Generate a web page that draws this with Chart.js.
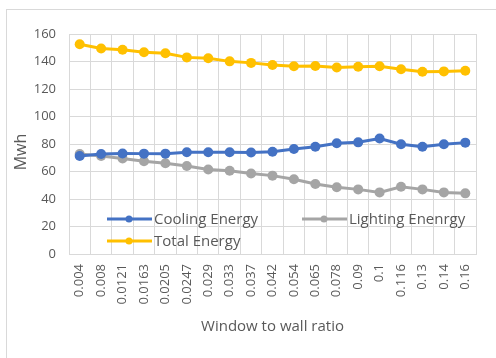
<!DOCTYPE html>
<html>
<head>
<meta charset="utf-8">
<script src="https://cdn.jsdelivr.net/npm/chart.js@4"></script>
<style>
  html, body { margin: 0; padding: 0; background: #fff; }
  #wrap { position: relative; width: 496px; height: 358px; }
  #frame { position: absolute; left: 6px; top: 9px; right: 0; bottom: 0;
           border-top: 1px solid #d9d9d9; border-left: 1px solid #d9d9d9; pointer-events: none; }
  canvas { position: absolute; left: 0; top: 0; }
</style>
</head>
<body>
<div id="wrap">
  <canvas id="c" width="496" height="358"></canvas>
  <div id="frame"></div>
</div>
<script>
// Window-to-wall ratio categories
const ratios = ['0.004', '0.008', '0.0121', '0.0163', '0.0205', '0.0247', '0.029', '0.033', '0.037',
                '0.042', '0.054', '0.065', '0.078', '0.09', '0.1', '0.116', '0.13', '0.14', '0.16'];

// Annual energy per ratio (MWh)
const coolingEnergy  = [71.3, 72.7, 73.1, 73.0, 73.0, 74.0, 74.0, 74.0, 73.8, 74.4, 76.4, 78.0, 80.5, 81.2, 84.0, 79.8, 78.0, 79.8, 81.0];
const lightingEnergy = [72.7, 71.3, 69.5, 67.4, 66.0, 64.0, 61.5, 60.6, 58.6, 57.0, 54.3, 50.9, 48.5, 47.0, 44.8, 48.9, 47.0, 44.8, 44.1];
const totalEnergy    = [152.5, 149.5, 148.6, 146.7, 146.0, 143.0, 142.3, 140.1, 139.0, 137.5, 136.5, 136.7, 135.6, 136.2, 136.5, 134.3, 132.6, 132.8, 133.3];

const yTicks = [0, 20, 40, 60, 80, 100, 120, 140, 160];

const FONT = '"Open Sans", Lato, sans-serif';
const TEXT = '#595959';
const GRID = '#d9d9d9';

const series = [
  { label: 'Cooling Energy',   data: coolingEnergy,  color: '#4472C4' },
  { label: 'Lighting Enenrgy', data: lightingEnergy, color: '#A5A5A5' },
  { label: 'Total Energy',     data: totalEnergy,    color: '#FFC000' }
];

// Legend sits inside the plot area: two columns, two rows
const legendSlots = [
  { x: 107, y: 219 },
  { x: 302, y: 219 },
  { x: 107, y: 241 }
];

const insideLegend = {
  id: 'insideLegend',
  afterDatasetsDraw(chart) {
    const ctx = chart.ctx;
    ctx.save();
    chart.data.datasets.forEach((ds, i) => {
      const s = legendSlots[i];
      ctx.strokeStyle = ds.borderColor;
      ctx.lineWidth = 3;
      ctx.beginPath();
      ctx.moveTo(s.x, s.y);
      ctx.lineTo(s.x + 45, s.y);
      ctx.stroke();
      ctx.fillStyle = ds.borderColor;
      ctx.beginPath();
      ctx.arc(s.x + 22, s.y, 3.5, 0, Math.PI * 2);
      ctx.fill();
      ctx.fillStyle = TEXT;
      ctx.font = '15px ' + FONT;
      ctx.textBaseline = 'middle';
      ctx.textAlign = 'left';
      ctx.fillText(ds.label, s.x + 47, s.y + 1);
    });
    ctx.restore();
  }
};

// Vertical value-axis title, sitting a little below the axis middle
const yAxisTitle = {
  id: 'yAxisTitle',
  afterDraw(chart) {
    const ctx = chart.ctx;
    const area = chart.chartArea;
    ctx.save();
    ctx.translate(21, (area.top + area.bottom) / 2 + 8);
    ctx.rotate(-Math.PI / 2);
    ctx.fillStyle = TEXT;
    ctx.font = '16px ' + FONT;
    ctx.textAlign = 'center';
    ctx.textBaseline = 'middle';
    ctx.fillText('Mwh', 0, 0);
    ctx.restore();
  }
};

new Chart(document.getElementById('c'), {
  type: 'line',
  data: {
    labels: ratios,
    datasets: series.map(s => ({
      label: s.label,
      data: s.data,
      borderColor: s.color,
      backgroundColor: s.color,
      borderWidth: 3,
      pointRadius: 5,
      pointHoverRadius: 5,
      pointBorderWidth: 0,
      tension: 0
    }))
  },
  options: {
    responsive: false,
    animation: false,
    events: [],
    layout: { padding: { left: 0, right: 20, top: 34, bottom: 22 } },
    plugins: { legend: { display: false }, tooltip: { enabled: false } },
    scales: {
      x: {
        offset: true,
        grid: { offset: true, color: GRID, drawTicks: false },
        border: { color: GRID },
        ticks: {
          color: TEXT, font: { family: FONT, size: 13 },
          minRotation: 90, maxRotation: 90, padding: 10, autoSkip: false
        },
        title: { display: true, text: 'Window to wall ratio', color: TEXT,
                 font: { family: FONT, size: 15 }, padding: { top: 0, bottom: 0 } },
        afterFit(scale) { scale.height = 82; }
      },
      y: {
        min: 0, max: 160,
        afterBuildTicks(scale) { scale.ticks = yTicks.map(v => ({ value: v })); },
        grid: { color: GRID, drawTicks: false },
        border: { color: GRID },
        ticks: { color: TEXT, font: { family: FONT, size: 13 }, padding: 13 },
        afterFit(scale) { scale.width = 69; }
      }
    }
  },
  plugins: [insideLegend, yAxisTitle]
});
</script>
</body>
</html>
